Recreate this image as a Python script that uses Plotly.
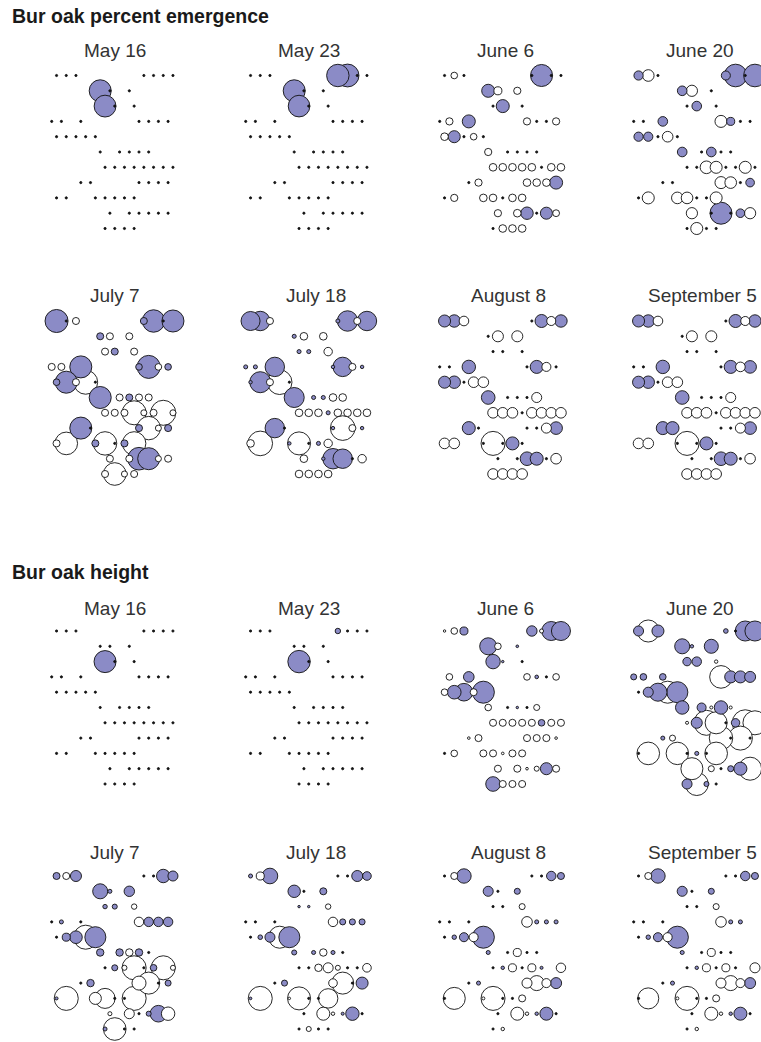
import numpy as np
import plotly.graph_objects as go

W, H = 761, 1042

# Plot grid: row number (north to south) and staggered column index of every plot
SITE_ROW = ([1] * 7 + [2] * 3 + [3] * 3 + [4] * 7 + [5] * 5 + [6] * 5 +
            [7] * 8 + [8] * 6 + [9] * 7 + [10] * 6 + [11] * 4)
SITE_COL = [1, 3, 5, 19, 21, 23, 25,
            10, 12, 16,
            11, 13, 17,
            0, 2, 6, 18, 20, 22, 24,
            1, 3, 5, 7, 9,
            10, 14, 16, 18, 20,
            11, 13, 15, 17, 19, 21, 23, 25,
            6, 8, 18, 20, 22, 24,
            1, 3, 9, 11, 13, 15, 17,
            12, 16, 18, 20, 22, 24,
            11, 13, 15, 17]

DATES = ["May 16", "May 23", "June 6", "June 20",
         "July 7", "July 18", "August 8", "September 5"]

SECTION_TITLES = ["Bur oak percent emergence", "Bur oak height"]

N = None
# Signed plot values (positive = filled, negative = open), listed in site order
emergence_may16 = [0, 0, 0, 0, 0, 0, 0, 11.0, 0, 0, 10.9, 0, 0,
                   0, 0, 0, 0, 0, 0, 0, 0, 0, 0, 0, 0, 0, 0, 0, 0, 0,
                   0, 0, 0, 0, 0, 0, 0, 0, 0, 0, 0, 0, 0, 0,
                   0, 0, 0, 0, 0, 0, 0, 0, 0, 0, 0, 0, 0, 0, 0, 0, 0]
emergence_may23 = [0, 0, 0, 11.2, 11.4, 0, 0, 11.0, 0, 0, 10.8, 0, 0,
                   0, 0, 0, 0, 0, 0, 0, 0, 0, 0, 0, 0, 0, 0, 0, 0, 0,
                   0, 0, 0, 0, 0, 0, 0, 0, 0, 0, 0, 0, 0, 0,
                   0, 0, 0, 0, 0, 0, 0, 0, 0, 0, 0, 0, 0, 0, 0, 0, 0]
emergence_jun06 = [0, -3.3, 0, 0, 11.0, 0, 0,
                   6.5, -4.0, -3.6,
                   0, 6.5, 0,
                   0, -3.6, 6.5, -3.6, 0, 0, -3.6,
                   -3.8, 6.0, 0, -3.3, 0,
                   -3.6, 0, 0, 0, 0,
                   -3.8, -3.8, -3.8, -3.8, -3.8, 0, -3.8, -3.8,
                   0, -3.6, -3.8, -3.8, -3.8, 6.5,
                   0, -3.6, -3.8, -3.8, 0, -3.8, -3.8,
                   -3.6, -3.8, 6.2, 0, 6.0, -3.4,
                   0, -3.8, -3.8, -3.8]
emergence_jun20 = [4.6, -5.8, 0, 4.5, 11.3, 0, 11.3,
                   4.8, -5.6, 0,
                   0, 4.8, 0,
                   0, 0, 4.8, -6.0, 4.0, 0, 0,
                   4.6, 4.6, 0, -5.3, 0,
                   4.8, 0, 4.8, 0, 0,
                   0, 0, -6.3, -6.0, 0, 0, -6.0, 0,
                   0, 0, -6.0, -5.8, 0, 4.3,
                   0, -6.0, -5.8, -5.8, 0, 0, -6.0,
                   -5.6, 0, 11.0, 0, 4.3, -5.6,
                   0, -6.0, 0, 0]
emergence_jul07 = [11.5, 0, -3.5, 3.5, 11.2, 0, 11.0,
                   3.5, -3.5, -3.5,
                   -3.5, 3.5, -3.5,
                   -3.5, -3.5, 11.0, 3.3, 11.5, -3.3, 3.3,
                   3.3, 11.0, -3.5, -12.0, 0,
                   11.0, -3.5, 3.5, -3.5, -3.5,
                   -3.5, -3.5, -3.5, -12.0, -3.0, -3.5, -12.5, -3.0,
                   11.0, 0, 3.5, -11.7, -3.0, 3.5,
                   -3.5, -11.3, 3.5, -11.7, 0, 3.5, -11.7,
                   -3.5, -3.5, 11.3, 11.0, -3.0, -3.5,
                   -3.5, -11.3, -3.0, -3.5]
emergence_jul18 = [9.5, 9.7, -3.5, 2.0, 10.2, -3.5, 9.7,
                   2.0, -3.8, -3.8,
                   2.0, 2.0, -4.2,
                   2.0, 2.0, 9.7, 1.7, 9.7, -3.5, 1.7,
                   1.7, 10.5, -3.5, -12.3, 0,
                   10.0, 2.0, 2.0, -3.8, -3.8,
                   -3.8, -3.8, -3.8, 2.0, -3.8, -3.8, -3.8, -3.8,
                   9.7, 0, 1.7, -12.3, -3.5, 1.7,
                   -3.8, -12.3, 1.7, -11.5, 0, 2.0, -4.2,
                   -3.8, 1.7, 10.2, 9.7, 0, -4.2,
                   -3.8, -3.8, -3.8, -3.8]
emergence_aug08 = [6.0, 6.2, -4.8, 0, 6.5, -4.5, 6.2,
                   0, -5.5, -5.5,
                   0, 0, 0,
                   0, 0, 6.7, 0, 6.5, -4.5, 0,
                   6.0, 6.2, 0, -5.3, -5.3,
                   6.8, 0, 0, 0, -5.0,
                   -5.3, -5.3, -5.3, 0, -5.3, -5.3, -5.3, -5.3,
                   6.5, 0, 0, 0, -5.0, 6.3,
                   -5.3, -5.3, 0, -12.0, 0, 6.5, 0,
                   0, 0, 6.8, 6.5, 0, -5.3,
                   -5.3, -5.3, -5.3, -5.3]
emergence_sep05 = [6.0, 6.2, -4.8, 0, 6.5, -4.5, 6.2,
                   0, -5.5, -5.5,
                   0, 0, 0,
                   0, 0, 6.7, 0, 6.5, -4.8, 6.3,
                   6.0, 6.2, 0, -5.3, -5.3,
                   6.8, 0, 0, 0, -5.0,
                   -5.3, -5.3, -5.3, 0, -5.3, -5.3, -5.3, -5.3,
                   6.5, 6.5, 0, 0, -5.0, 6.3,
                   -5.3, -5.3, 0, -12.0, 0, 6.5, 0,
                   0, 0, 6.8, 6.5, 0, -5.3,
                   -5.3, -5.3, -5.3, -5.3]

height_may16 = [0, 0, 0, 0, 0, 0, 0, 0, 0, 0, 11.0, 0, 0,
                0, 0, 0, 0, 0, 0, 0, 0, 0, 0, 0, 0, 0, 0, 0, 0, 0,
                0, 0, 0, 0, 0, 0, 0, 0, 0, 0, 0, 0, 0, 0,
                0, 0, 0, 0, 0, 0, 0, 0, 0, 0, 0, 0, 0, 0, 0, 0, 0]
height_may23 = [0, 0, 0, 2.7, 0, 0, 0, 0, 0, 0, 11.2, 0, 0,
                0, 0, 0, 0, 0, 0, 0, 0, 0, 0, 0, 0, 0, 0, 0, 0, 0,
                0, 0, 0, 0, 0, 0, 0, 0, 0, 0, 0, 0, 0, 0,
                0, 0, 0, 0, 0, 0, 0, 0, 0, 0, 0, 0, 0, 0, 0, 0, 0]
height_jun06 = [-1.2, -3.3, 4.0, 5.2, -2.0, 9.5, 9.5,
                8.5, -3.3, 1.3,
                7.2, 1.2, 0,
                N, -3.3, 5.3, -3.3, 1.8, 0, -3.3,
                -3.3, 6.8, 8.8, -3.5, 11.0,
                -3.3, 0, 1.2, 0, -3.0,
                -3.5, -3.5, -3.5, -3.5, -3.5, 3.3, -3.5, -3.5,
                -1.3, -3.5, -3.5, -3.5, -3.5, -1.3,
                0, -3.3, -3.5, -3.5, -1.3, -3.5, -3.5,
                -3.5, -3.5, -1.3, -2.5, 6.0, -3.5,
                7.3, -3.5, -3.5, -3.5]
height_jun20 = [5.0, -11.0, 6.0, 2.3, 0, 10.0, 10.0,
                7.5, 1.7, 7.0,
                4.2, 4.7, -1.7,
                3.0, 3.3, 3.3, -11.3, 6.0, 6.0, 5.5,
                0, 5.0, 9.0, -11.0, 10.5,
                6.7, 4.5, -1.5, 6.7, -1.5,
                -1.5, 5.5, -12.5, -11.0, 0, 4.2, -13.0, -12.0,
                2.0, -3.0, -11.7, 0, -12.0, 0,
                0, -11.3, -11.2, 0, 2.0, 0, -11.3,
                -11.0, -3.0, 0, 3.0, 6.5, -11.5,
                5.0, -11.5, 2.5, 0]
height_jul07 = [3.5, -3.5, 5.5, 0, 0, 6.7, 5.0,
                7.5, 2.0, 5.2,
                2.2, 2.5, -2.7,
                0, 2.0, 0, -4.7, 4.7, 4.7, 4.7,
                0, 4.0, 6.3, -12.0, 10.5,
                3.7, 3.7, -3.7, 3.7, 0,
                0, 3.0, -2.5, -12.0, 0, 3.3, -12.0, -2.5,
                0, 3.7, -7.0, -11.0, 0, 3.0,
                1.5, -12.0, -6.0, -10.0, 0, 0, -12.0,
                -2.0, -5.0, 0, 2.5, 8.3, -6.7,
                2.0, -11.3, 0, 0]
height_jul18 = [2.0, -4.0, 7.8, 0, 0, 5.5, 4.3,
                6.2, 0, 3.5,
                1.2, 1.2, -2.7,
                0, 0, 0, -4.7, 3.0, 3.0, 3.0,
                0, 2.3, 5.0, -11.0, 10.5,
                2.5, 2.0, -3.7, 2.0, 0,
                0, 0, -3.7, -5.0, -2.5, 0, 0, -4.3,
                0, 3.0, -4.3, -11.0, 0, 6.0,
                1.3, -12.0, -1.2, -11.5, 0, 0, -9.7,
                0, -6.5, -1.7, 1.5, 6.7, 0,
                0, -2.5, 0, 0]
height_aug08 = [0, -3.5, 7.2, 0, 0, 4.7, 3.5,
                5.0, 0, 3.0,
                0, 0, -3.0,
                0, 0, 0, -5.3, 2.0, 2.0, 2.0,
                0, 2.2, 4.5, -4.5, 11.0,
                2.0, 0, -4.0, 0, 0,
                0, 1.7, -4.0, 0, -4.0, 1.5, N, -4.7,
                0, 2.0, -5.0, -7.5, -4.5, 5.5,
                0, -11.0, -1.5, -12.0, 0, 0, -3.5,
                0, -6.5, -1.7, 1.7, 6.5, 0,
                0, -1.7, N, N]
height_sep05 = [0, -3.5, 7.2, 0, 0, 4.7, 3.5,
                5.0, 0, 3.0,
                0, 0, -3.0,
                0, 0, 0, -5.3, 2.0, 2.0, N,
                0, 2.2, 4.5, -4.5, 11.0,
                2.0, 0, -4.0, 0, 0,
                0, 1.7, -4.0, 0, -4.0, 0, N, -5.0,
                0, 2.0, -5.0, -7.5, -4.5, 5.5,
                0, -10.5, -1.5, -12.0, 0, 0, -3.5,
                0, -6.5, -1.7, 1.7, 6.5, 0,
                0, -1.7, N, N]

SECTIONS = [
    [emergence_may16, emergence_may23, emergence_jun06, emergence_jun20,
     emergence_jul07, emergence_jul18, emergence_aug08, emergence_sep05],
    [height_may16, height_may23, height_jun06, height_jun20,
     height_jul07, height_jul18, height_aug08, height_sep05],
]

# ---- page geometry (pixels) ----
COL_X0 = 51.7          # x of grid column 0 in the first panel column
COL_STEP = 194.0       # distance between panel columns
COL_PX = 4.85          # pixels per grid column
ROW_PX = 15.3          # pixels per grid row
BAND_TOP = [75.5, 321.0, 631.0, 876.0]   # y of grid row 1 in each panel row
TITLE_Y = [50.0, 295.0, 608.0, 852.5]
TITLE_X = [[115, 308.5, 505.5, 700], [115, 316, 508, 702.5]]
SECTION_Y = [16.0, 572.0]
ROW_LO, ROW_HI = 0.0, 11.5

FILL_POS = "#8b8bc6"
FILL_NEG = "#ffffff"
FILL_ZERO = "#111111"
EDGE = "#111111"

fig = go.Figure()
layout = {}
annotations = []

panel = 0
for s, series_list in enumerate(SECTIONS):
    for d, vals in enumerate(series_list):
        prow = d // 4
        col = d % 4
        band = s * 2 + prow
        panel += 1
        ax = "" if panel == 1 else str(panel)

        v = np.array([np.nan if x is None else x for x in vals], dtype=float)
        keep = ~np.isnan(v)
        cols = np.array(SITE_COL)[keep]
        rows = np.array(SITE_ROW)[keep]
        v = v[keep]
        # larger bubbles underneath, small ones on top
        order = np.argsort(-np.abs(v), kind="stable")
        cols, rows, v = cols[order], rows[order], v[order]
        fills = np.where(v > 0, FILL_POS, np.where(v < 0, FILL_NEG, FILL_ZERO))

        fig.add_trace(go.Scatter(
            x=cols, y=rows, mode="markers",
            xaxis="x" + ax, yaxis="y" + ax,
            cliponaxis=False, hoverinfo="skip", showlegend=False,
            marker=dict(size=np.abs(v) + 0.02, sizemode="diameter", sizeref=0.5,
                        sizemin=1.1, color=fills.tolist(), opacity=1,
                        line=dict(color=EDGE, width=0.9)),
        ))

        kmin = -3.0
        left_px = COL_X0 + COL_STEP * col
        kmax = min(27.0, (W - left_px) / COL_PX - 0.01)
        x0 = (left_px + COL_PX * kmin) / W
        x1 = (left_px + COL_PX * kmax) / W
        top_px = BAND_TOP[band] + ROW_PX * (ROW_LO - 1)
        bot_px = BAND_TOP[band] + ROW_PX * (ROW_HI - 1)
        layout["xaxis" + ax] = dict(domain=[x0, min(x1, 1.0)], range=[kmin, kmax],
                                    visible=False, fixedrange=True)
        layout["yaxis" + ax] = dict(domain=[max(0.0, 1 - bot_px / H), 1 - top_px / H],
                                    range=[ROW_HI, ROW_LO], visible=False, fixedrange=True)

        annotations.append(dict(
            text=DATES[d], x=TITLE_X[prow][col] / W, y=1 - TITLE_Y[band] / H,
            xref="paper", yref="paper", xanchor="center", yanchor="middle",
            showarrow=False,
            font=dict(family="Liberation Sans, Arial, sans-serif", size=19, color="#333333"),
        ))

for s, title in enumerate(SECTION_TITLES):
    annotations.append(dict(
        text="<b>" + title + "</b>", x=10 / W, y=1 - SECTION_Y[s] / H,
        xref="paper", yref="paper", xanchor="left", yanchor="middle",
        showarrow=False,
        font=dict(family="Liberation Sans, Arial, sans-serif", size=19.5, color="#1a1a1a"),
    ))

fig.update_layout(
    width=W, height=H, margin=dict(l=0, r=0, t=0, b=0),
    paper_bgcolor="white", plot_bgcolor="white",
    annotations=annotations, **layout,
)

fig.write_html("out.html", config={"displayModeBar": False})
